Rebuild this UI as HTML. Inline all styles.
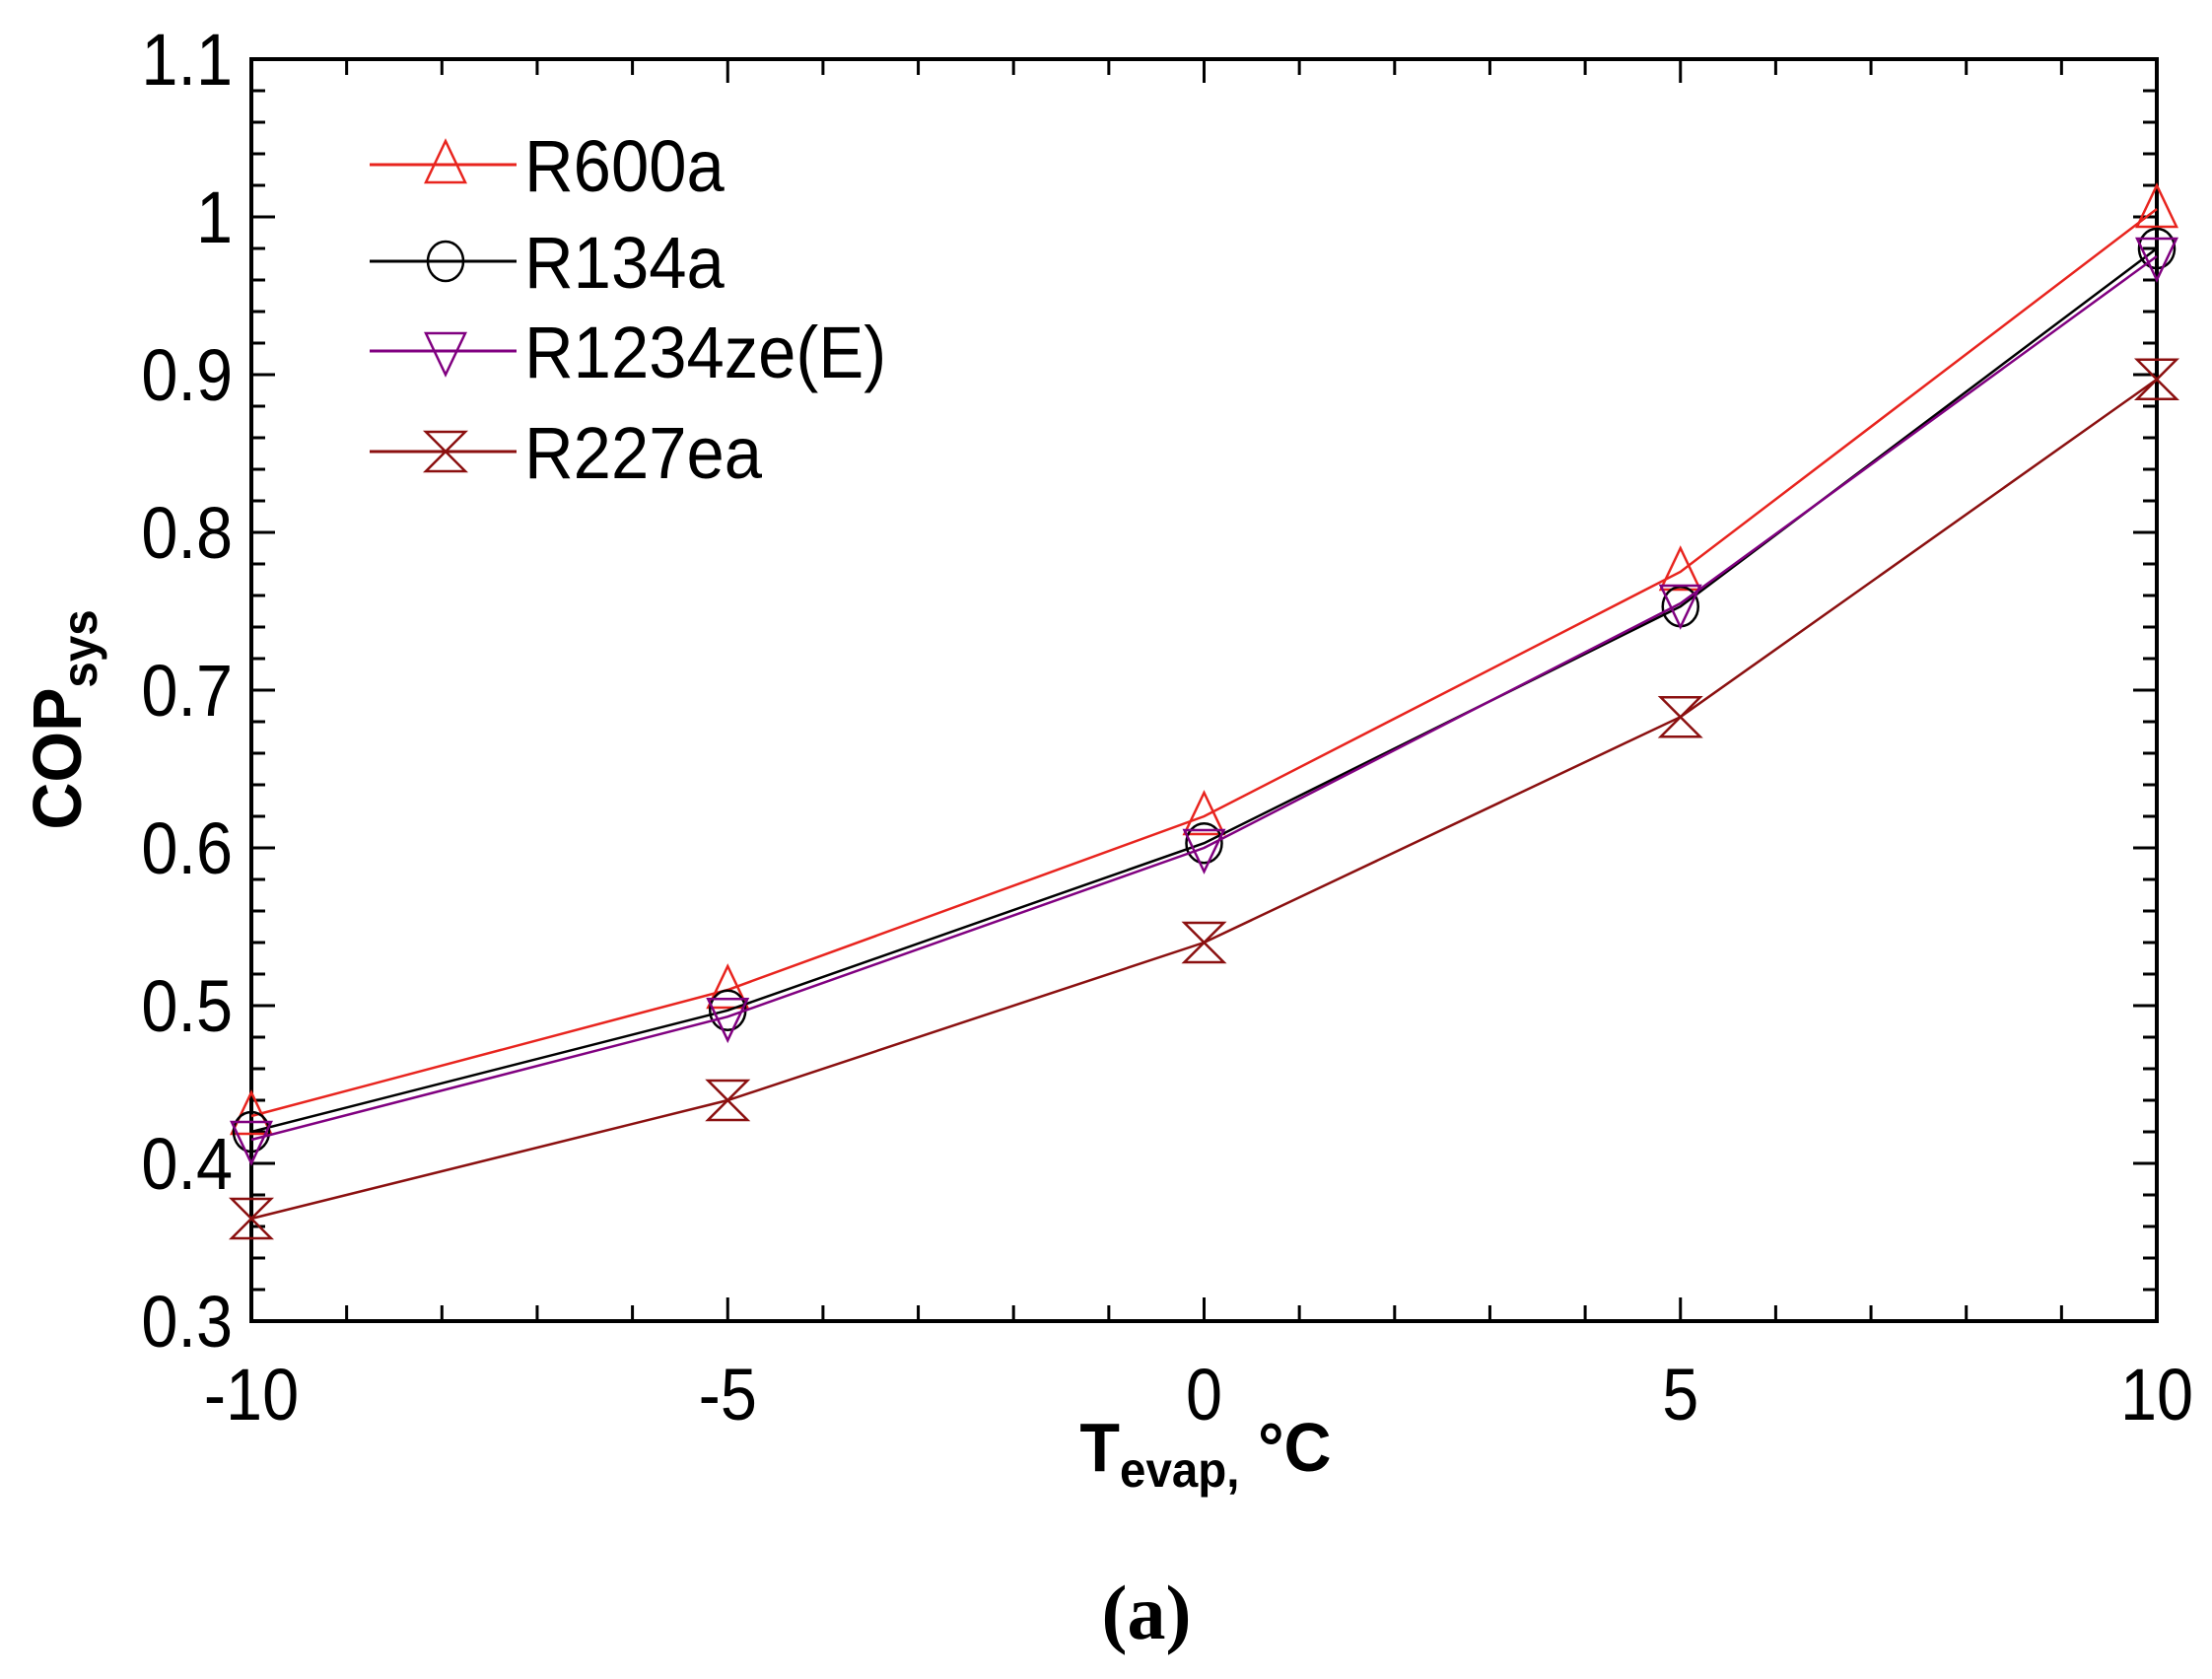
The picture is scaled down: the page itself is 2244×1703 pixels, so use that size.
<!DOCTYPE html>
<html><head><meta charset="utf-8"><style>
html,body{margin:0;padding:0;background:#fff;}
svg{display:block;}
</style></head><body>
<svg width="2244" height="1703" viewBox="0 0 2244 1703" xmlns="http://www.w3.org/2000/svg" font-family="'Liberation Sans', Arial, sans-serif">
<rect width="2244" height="1703" fill="#fff"/>
<g id="ticks" stroke="#000" stroke-width="3">
</g>
<rect x="255" y="60" width="1933" height="1280" fill="none" stroke="#000" stroke-width="4"/>
<g id="lines" fill="none"></g>
<g fill="#000" id="labels"></g>
<text x="0" y="0" font-size="70" font-weight="bold" text-anchor="middle" transform="translate(82 730) rotate(-90) scale(0.95 1)">COP<tspan font-size="50" dy="16">sys</tspan></text>
<text x="0" y="0" font-size="70" font-weight="bold" text-anchor="middle" transform="translate(1223 1492) scale(0.95 1)">T<tspan font-size="50" dy="16">evap,</tspan><tspan dy="-16"> °C</tspan></text>
<text x="1163" y="1662" font-size="78" font-weight="bold" text-anchor="middle" font-family="'Liberation Serif', serif">(a)</text>
<g id="legend"></g>
<script>
var NS="http://www.w3.org/2000/svg";
function el(p,t,a,txt){var e=document.createElementNS(NS,t);for(var k in a)e.setAttribute(k,a[k]);if(txt!==undefined)e.textContent=txt;p.appendChild(e);return e;}
function txt(p,x,y,s,anchor,fs,sx){return el(p,'text',{x:0,y:0,'text-anchor':anchor,'font-size':fs,transform:"translate("+x+" "+y+") scale("+sx+" 1)"},s);}
var X=function(v){return 255+(v+10)*96.65;};
var Y=function(v){return 1340-(v-0.3)*1600;};
var tk=document.getElementById('ticks');
for(var i=-10;i<=10;i++){var x=X(i);var L=(i%5==0)?24:16;
 el(tk,'line',{x1:x,y1:1340,x2:x,y2:1340-L});el(tk,'line',{x1:x,y1:60,x2:x,y2:60+L});}
for(var j=0;j<=40;j++){var v=0.3+j*0.02;var y=Y(v);var L=(j%5==0)?24:14;
 el(tk,'line',{x1:255,y1:y,x2:255+L,y2:y});el(tk,'line',{x1:2188,y1:y,x2:2188-L,y2:y});}
var lb=document.getElementById('labels');
for(var j=3;j<=11;j++){var v=j/10;var s=(j==10)?"1":(j==11?"1.1":"0."+j);
 txt(lb,236,Y(v)+26,s,'end',74,0.9);}
[-10,-5,0,5,10].forEach(function(v){txt(lb,X(v),1440,String(v),'middle',74,0.9);});
var xs=[-10,-5,0,5,10];
var S=[
 {c:"#e8241e",d:[0.43,0.51,0.62,0.775,1.005],m:"up",n:"R600a",ly:167},
 {c:"#000000",d:[0.42,0.497,0.603,0.753,0.98],m:"circ",n:"R134a",ly:265},
 {c:"#800080",d:[0.415,0.493,0.600,0.755,0.975],m:"down",n:"R1234ze(E)",ly:356},
 {c:"#8b1010",d:[0.365,0.44,0.54,0.683,0.897],m:"hour",n:"R227ea",ly:458}];
var g=document.getElementById('lines');var lg=document.getElementById('legend');
function marker(p,m,x,y,c){var h=20;
 if(m=="up")el(p,'path',{d:"M"+x+" "+(y-h-4)+"L"+(x+h)+" "+(y+h-2)+"L"+(x-h)+" "+(y+h-2)+"Z",fill:"none",stroke:c,'stroke-width':2.5});
 if(m=="down")el(p,'path',{d:"M"+x+" "+(y+h+4)+"L"+(x+h)+" "+(y-h+2)+"L"+(x-h)+" "+(y-h+2)+"Z",fill:"none",stroke:c,'stroke-width':2.5});
 if(m=="circ")el(p,'ellipse',{cx:x,cy:y,rx:18,ry:20,fill:"none",stroke:c,'stroke-width':2.5});
 if(m=="hour")el(p,'path',{d:"M"+(x-h)+" "+(y-h)+"L"+(x+h)+" "+(y-h)+"L"+(x-h)+" "+(y+h)+"L"+(x+h)+" "+(y+h)+"Z",fill:"none",stroke:c,'stroke-width':2.5});}
S.forEach(function(s){
 var pts=xs.map(function(x,i){return X(x)+","+Y(s.d[i]);}).join(" ");
 el(g,'polyline',{points:pts,stroke:s.c,'stroke-width':2.5,fill:"none"});
 xs.forEach(function(x,i){marker(g,s.m,X(x),Y(s.d[i]),s.c);});
 el(lg,'line',{x1:375,y1:s.ly,x2:524,y2:s.ly,stroke:s.c,'stroke-width':3});
 marker(lg,s.m,452,s.ly,s.c);
 var t=txt(lg,532,s.ly+27,s.n,'start',74,0.93);t.setAttribute('fill','#000');
});
</script>
</svg>
</body></html>
